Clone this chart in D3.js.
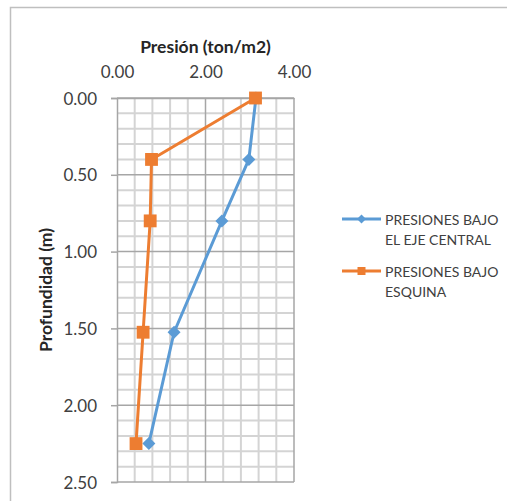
<!DOCTYPE html>
<html>
<head>
<meta charset="utf-8">
<script src="https://cdn.jsdelivr.net/npm/d3@7"></script>
<style>
  html, body { margin: 0; padding: 0; background: #fff; }
  svg { display: block; }
  text { font-family: Lato, "Open Sans", sans-serif; fill: #404040; }
</style>
</head>
<body>
<svg id="chart" width="507" height="501"></svg>
<script>
// Depth (m) of each reading and pressure (ton/m2) for each series
const depths = [0, 0.4, 0.8, 1.525, 2.25];
const centralPressure = [3.14, 2.98, 2.37, 1.29, 0.72];
const cornerPressure = [3.13, 0.78, 0.75, 0.59, 0.43];
const seriesNames = [["PRESIONES BAJO", "EL EJE CENTRAL"], ["PRESIONES BAJO", "ESQUINA"]];
const seriesColors = ["#5B9BD5", "#ED7D31"];
const xTicks = [0, 2, 4];
const yTicks = [0, 0.5, 1, 1.5, 2, 2.5];
const xTitle = "Presión (ton/m2)";
const yTitle = "Profundidad (m)";

const svg = d3.select("#chart");

// outer chart frame
svg.append("rect")
  .attr("x", 10.5).attr("y", 7.5)
  .attr("width", 600).attr("height", 600)
  .attr("fill", "#fff").attr("stroke", "#bfbfbf").attr("stroke-width", 1.5);

const x = d3.scaleLinear().domain([0, 4]).range([117, 294]);
const y = d3.scaleLinear().domain([0, 2.5]).range([98, 482]);

const grid = svg.append("g");
// minor gridlines
const xMinor = d3.range(1, 10).map(k => k * 0.4).filter(v => Math.abs(v - 2) > 1e-6);
const yMinor = d3.range(1, 25).map(k => +(k * 0.1).toFixed(2)).filter(v => Math.abs(Math.round(v * 2) - v * 2) > 1e-6);
grid.selectAll("line.xm").data(xMinor).join("line")
  .attr("x1", d => x(d)).attr("x2", d => x(d))
  .attr("y1", y(0)).attr("y2", y(2.5))
  .attr("stroke", "#d4d4d4").attr("stroke-width", 2);
grid.selectAll("line.ym").data(yMinor).join("line")
  .attr("y1", d => y(d)).attr("y2", d => y(d))
  .attr("x1", x(0)).attr("x2", x(4))
  .attr("stroke", "#d4d4d4").attr("stroke-width", 2);
// major gridlines
grid.selectAll("line.xM").data([2, 4]).join("line")
  .attr("x1", d => x(d)).attr("x2", d => x(d))
  .attr("y1", y(0)).attr("y2", y(2.5))
  .attr("stroke", "#a6a6a6").attr("stroke-width", 1.5);
grid.selectAll("line.yM").data(yTicks).join("line")
  .attr("y1", d => y(d)).attr("y2", d => y(d))
  .attr("x1", x(0)).attr("x2", x(4))
  .attr("stroke", "#a6a6a6").attr("stroke-width", 1.5);

// y axis (left) with outward ticks
const yAxis = d3.axisLeft(y).tickValues(yTicks).tickFormat(d3.format(".2f")).tickSize(6).tickPadding(14);
const gy = svg.append("g").attr("transform", `translate(${x(0)},0)`).call(yAxis);
gy.select(".domain").attr("stroke", "#a6a6a6").attr("stroke-width", 1.5);
gy.selectAll(".tick line").attr("stroke", "#a6a6a6").attr("stroke-width", 1.5);
gy.selectAll(".tick text").attr("font-size", 17).attr("font-family", "Lato").attr("fill", "#404040").attr("dy", "0.36em");

// x axis along the top
const xAxis = d3.axisTop(x).tickValues(xTicks).tickFormat(d3.format(".2f")).tickSize(0).tickPadding(20);
const gx = svg.append("g").attr("transform", `translate(0,${y(0)})`).call(xAxis);
gx.select(".domain").attr("stroke", "#a6a6a6").attr("stroke-width", 1.5);
gx.selectAll(".tick text").attr("font-size", 17).attr("font-family", "Lato").attr("fill", "#404040");

// axis titles
svg.append("text").attr("x", (x(0) + x(4)) / 2).attr("y", 53)
  .attr("text-anchor", "middle").attr("font-size", 17.5).attr("font-weight", "bold")
  .style("fill", "#262626")
  .text(xTitle);
svg.append("text")
  .attr("transform", `translate(52,${(y(0) + y(2.5)) / 2}) rotate(-90)`)
  .attr("text-anchor", "middle").attr("font-size", 17.5).attr("font-weight", "bold")
  .style("fill", "#262626")
  .text(yTitle);

// rotated-square marker for the central series
const diamond = s => `M0,${-s}L${s},0L0,${s}L${-s},0Z`;

// series
const series = [centralPressure, cornerPressure];
const line = d3.line().x(d => x(d[0])).y(d => y(d[1]));
series.forEach((vals, i) => {
  const pts = vals.map((v, k) => [v, depths[k]]);
  svg.append("path").datum(pts)
    .attr("d", line).attr("fill", "none")
    .attr("stroke", seriesColors[i]).attr("stroke-width", 3).attr("stroke-linejoin", "round");
  svg.selectAll(null).data(pts).join("path")
    .attr("transform", d => `translate(${x(d[0])},${y(d[1])})`)
    .attr("d", i === 0 ? diamond(6.5) : d3.symbol().type(d3.symbolSquare).size(165)())
    .attr("fill", seriesColors[i]);
});

// legend
const legend = svg.append("g");
const legY = [219, 271];
seriesNames.forEach((lines, i) => {
  const g = legend.append("g").attr("transform", `translate(0,${legY[i]})`);
  g.append("line").attr("x1", 342).attr("x2", 381).attr("y1", 0).attr("y2", 0)
    .attr("stroke", seriesColors[i]).attr("stroke-width", 3);
  g.append("path").attr("transform", "translate(361.5,0)")
    .attr("d", i === 0 ? diamond(4.5) : d3.symbol().type(d3.symbolSquare).size(64)())
    .attr("fill", seriesColors[i]);
  lines.forEach((t, k) => {
    g.append("text").attr("x", 385).attr("y", 6 + k * 20)
      .attr("font-size", 14).text(t);
  });
});
</script>
</body>
</html>
